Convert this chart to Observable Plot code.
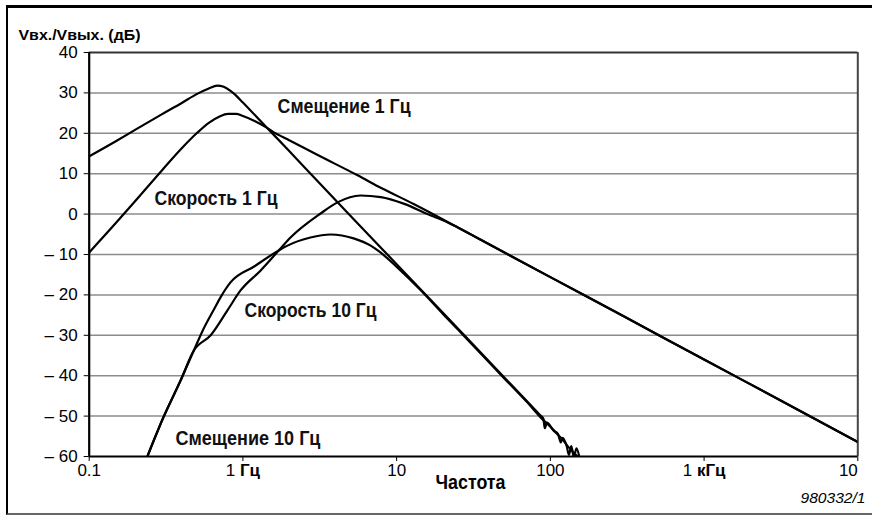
<!DOCTYPE html>
<html>
<head>
<meta charset="utf-8">
<script src="https://cdn.jsdelivr.net/npm/d3@7"></script>
<script src="https://cdn.jsdelivr.net/npm/@observablehq/plot@0.6"></script>
<style>
html, body { margin: 0; padding: 0; background: #fff; }
#wrap { position: relative; width: 872px; height: 515px; overflow: hidden; background: #fff; }
#wrap svg { position: absolute; left: 0; top: 0; }
#frame { position: absolute; left: 6px; top: 5px; width: 900px; height: 510px; box-sizing: border-box;
  border-top: 3px solid #000; border-left: 2px solid #000; border-bottom: 2px solid #666; pointer-events: none; z-index: 2; }
</style>
</head>
<body>
<div id="wrap"><div id="frame"></div></div>
<script>
// ---- data (frequency in Hz, level in dB) ----
const freqDisp1 = [0.1, 0.15, 0.2, 0.3, 0.4, 0.5, 0.6, 0.68, 0.75, 0.83, 0.9, 1.0, 1.5, 2, 3, 5, 10, 20, 50, 70, 85, 90, 92, 95, 105, 112, 117, 120, 128, 132, 137, 142, 148, 155];
const dbDisp1   = [14.3, 18.1, 20.9, 24.8, 27.5, 29.7, 31.1, 31.8, 31.5, 30.5, 29.4, 27.6, 20.6, 15.6, 8.5, -0.4, -12.4, -24.4, -40.4, -46.2, -49.6, -50.6, -53.0, -51.6, -53.6, -54.4, -56.5, -55.4, -57.6, -59.6, -57.4, -60.2, -58.0, -60.5];

const freqVel1 = [0.1, 0.15, 0.2, 0.3, 0.4, 0.5, 0.6, 0.7, 0.8, 0.9, 1.0, 1.2, 1.4, 1.58, 2, 3, 5.57, 8, 12.9, 20, 35, 100, 300, 1000, 3000, 10000];
const dbVel1   = [-9.5, -2.1, 3.3, 11.0, 16.3, 20.0, 22.6, 24.1, 24.8, 24.8, 24.3, 23.0, 21.6, 20.3, 18.3, 14.8, 9.6, 6.4, 2.5, -1.3, -6.3, -15.6, -25.3, -36.0, -45.7, -56.4];

const freqVel10 = [0.239, 0.304, 0.393, 0.479, 0.617, 0.791, 0.965, 1.3, 1.71, 2.04, 3.2, 4.12, 5.82, 7.9, 11.1, 16.7, 20, 25, 35, 100, 300, 1000, 3000, 10000];
const dbVel10   = [-60, -50.3, -41.2, -33.8, -30.0, -23.9, -18.9, -14.0, -9.0, -5.8, 0.15, 2.9, 4.6, 4.2, 2.6, -0.35, -1.5, -3.3, -6.3, -15.6, -25.3, -36.0, -45.7, -56.4];

const freqDisp10 = [0.239, 0.304, 0.393, 0.479, 0.548, 0.65, 0.715, 0.83, 1.19, 1.71, 1.95, 2.75, 3.72, 5.25, 6.78, 7.85, 10.1, 14.3, 20, 30, 50, 70, 90, 100, 110, 120, 130, 140, 150];
const dbDisp10   = [-60, -50.3, -41.2, -33.8, -28.8, -23.5, -20.6, -16.9, -12.9, -9.0, -7.8, -5.8, -5.05, -6.0, -7.8, -9.5, -13.2, -18.8, -24.7, -31.7, -40.6, -46.4, -51.0, -52.6, -54.3, -55.8, -57.5, -58.8, -60.0];

const seriesNames = ["Смещение 1 Гц", "Скорость 1 Гц", "Скорость 10 Гц", "Смещение 10 Гц"];
const labelFreq = [1.68, 0.266, 1.024, 0.364];
const labelDb   = [26.5, 3.8, -23.9, -55.45];

const xTicks = [0.1, 1, 10, 100, 1000, 10000];
const xTickLabels = ["0.1", "1 Гц", "10", "100", "1 кГц", "10"];
const yTicks = [40, 30, 20, 10, 0, -10, -20, -30, -40, -50, -60];
const gridLevels = [30, 20, 10, 0, -10, -20, -30, -40, -50];

const yTitle = "Vвх./Vвых. (дБ)";
const xTitle = "Частота";
const figureCode = "980332/1";

// ---- build table ----
const curves = [[freqDisp1, dbDisp1], [freqVel1, dbVel1], [freqVel10, dbVel10], [freqDisp10, dbDisp10]];
const rows = [];
curves.forEach(([fs, ds], k) => fs.forEach((f, i) => rows.push({series: seriesNames[k], f, db: ds[i]})));
const labelRows = seriesNames.map((t, i) => ({t, f: labelFreq[i], db: labelDb[i]}));
const tickRows = xTicks.map((v, i) => ({v, t: xTickLabels[i]}));

const font = "'Liberation Sans', Arial, Helvetica, sans-serif";

const chart = Plot.plot({
  width: 872, height: 515,
  marginLeft: 88.7, marginRight: 14.7, marginTop: 52, marginBottom: 59,
  style: {fontFamily: font, fontSize: "17px", color: "#000", background: "transparent", overflow: "visible"},
  x: {type: "log", domain: [0.1, 10000], ticks: xTicks, tickFormat: () => "", tickSize: 5, label: null},
  y: {domain: [-60, 40], ticks: yTicks, tickFormat: d => d < 0 ? "\u2013 " + Math.abs(d) : String(d), tickSize: 5, tickPadding: 6.5, label: null},
  marks: [
    Plot.ruleY(gridLevels, {stroke: "#8c8c8c", strokeWidth: 1.5}),
    Plot.ruleY([40], {stroke: "#333", strokeWidth: 2}),
    Plot.ruleX([10000], {stroke: "#444", strokeWidth: 2}),
    Plot.ruleX([0.1], {stroke: "#000", strokeWidth: 2.2}),
    Plot.ruleY([-60], {stroke: "#000", strokeWidth: 2.2}),
    Plot.line(rows, {x: "f", y: "db", z: "series", stroke: "#000", strokeWidth: 2.2, curve: "monotone-x", clip: true}),
    Plot.text(labelRows, {x: "f", y: "db", text: "t", textAnchor: "start", fontSize: 20, fontWeight: "bold", fill: "#111"}),
    Plot.text(tickRows.slice(0, 5), {x: "v", text: "t", frameAnchor: "bottom", dy: 19.3, fontSize: 17}),
    Plot.text(tickRows.slice(5), {x: "v", text: "t", frameAnchor: "bottom", textAnchor: "end", dy: 19.3, fontSize: 17}),
    Plot.text([yTitle], {frameAnchor: "top-left", textAnchor: "start", dx: -70.7, dy: -22.8, fontSize: 15, fontWeight: "bold"}),
    Plot.text([xTitle], {frameAnchor: "bottom", dx: -3, dy: 32.6, fontSize: 20, fontWeight: "bold"}),
    Plot.text([figureCode], {frameAnchor: "bottom-right", textAnchor: "end", dx: 7.7, dy: 46.2, fontSize: 15, fontStyle: "italic"})
  ]
});

document.getElementById("wrap").appendChild(chart);

// ---- text finishing: condensed widths and bold units ----
const widths = {"Смещение 1 Гц": 133, "Скорость 1 Гц": 123, "Скорость 10 Гц": 132, "Смещение 10 Гц": 145,
  "Частота": 70, "Vвх./Vвых. (дБ)": 122, "980332/1": 65};
d3.select(chart).selectAll("text").each(function () {
  const t = this.textContent;
  if (widths[t] && this.childElementCount === 0) {
    this.setAttribute("textLength", widths[t]);
    this.setAttribute("lengthAdjust", "spacingAndGlyphs");
  }
  const m = /^(1) (Гц|кГц)$/.exec(t);
  if (m && this.childElementCount === 0) {
    const sel = d3.select(this);
    sel.text(null);
    sel.append("tspan").text(m[1] + " ");
    sel.append("tspan").attr("font-weight", "bold").text(m[2]);
  }
});
</script>
</body>
</html>
